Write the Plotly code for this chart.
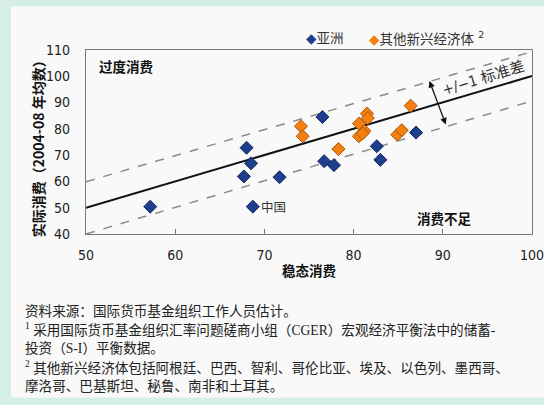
import plotly.graph_objects as go

# ---- data ----
asia_x = [57.2, 68.0, 68.5, 67.7, 68.7, 71.7, 76.5, 76.7, 77.8, 82.6, 83.0, 87.0]
asia_y = [50.4, 72.8, 66.9, 61.9, 50.4, 61.6, 84.5, 67.7, 66.2, 73.4, 68.2, 78.6]
other_x = [74.1, 74.3, 78.3, 81.5, 81.6, 80.6, 81.2, 80.6, 81.0, 84.9, 85.4, 86.4]
other_y = [81.0, 77.2, 72.3, 85.8, 84.1, 82.0, 79.2, 77.2, 78.2, 77.8, 79.5, 88.8]
china_x, china_y = 68.7, 50.4

line_x = [50, 100]
fit_y = [50, 100.1]
upper_y = [59.9, 109.4]
lower_y = [40.0, 90.6]

x_ticks = [50, 60, 70, 80, 90, 100]
y_ticks = [40, 50, 60, 70, 80, 90, 100, 110]

BLUE = "#1d3f8e"
ORANGE = "#f57f0f"
MINT = "#d6efe6"
PANEL = "#f9f9f9"
CJK = "Noto Sans CJK SC"
NARROW = "Liberation Sans Narrow, DejaVu Sans Condensed, Arial Narrow, sans-serif"

# plot area in pixels
L, R, T, B = 86, 532, 49.5, 234
W, H = 544, 405


def px_x(p):
    return (p - L) / (R - L)


def px_y(p):
    return (B - p) / (B - T)


fig = go.Figure()

fig.add_trace(go.Scatter(x=line_x, y=upper_y, mode="lines",
                         line=dict(color="#8a8a8a", width=1.5, dash="dash"),
                         hoverinfo="skip", showlegend=False))
fig.add_trace(go.Scatter(x=line_x, y=lower_y, mode="lines",
                         line=dict(color="#8a8a8a", width=1.5, dash="dash"),
                         hoverinfo="skip", showlegend=False))
fig.add_trace(go.Scatter(x=line_x, y=fit_y, mode="lines",
                         line=dict(color="#111111", width=2),
                         hoverinfo="skip", showlegend=False))

fig.add_trace(go.Scatter(x=asia_x, y=asia_y, mode="markers", name="亚洲",
                         marker=dict(symbol="diamond", size=10, color=BLUE,
                                     line=dict(color="#13285c", width=1)),
                         showlegend=False))
fig.add_trace(go.Scatter(x=other_x, y=other_y, mode="markers", name="其他新兴经济体",
                         marker=dict(symbol="diamond", size=10, color=ORANGE,
                                     line=dict(color="#a8560a", width=1)),
                         showlegend=False))

annotations = [
    # double-headed arrow for +/- 1 std
    dict(x=88.5, y=98.2, ax=90.4, ay=81.1, xref="x", yref="y", axref="x", ayref="y",
         showarrow=True, arrowhead=2, startarrowhead=2, arrowside="end+start",
         arrowsize=1, arrowwidth=1.3, arrowcolor="#111111", text=""),
    dict(x=94.6, y=99.3, xref="x", yref="y", text="+/−1 标准差", showarrow=False,
         textangle=-17, font=dict(family=NARROW + ", " + CJK, size=15, color="#333333")),
    dict(x=54.5, y=104.1, xref="x", yref="y", text="<b>过度消费</b>", showarrow=False,
         font=dict(family=CJK, size=13.5, color="#111111")),
    dict(x=90.2, y=46.1, xref="x", yref="y", text="<b>消费不足</b>", showarrow=False,
         font=dict(family=CJK, size=13.5, color="#111111")),
    dict(x=china_x, y=china_y, xref="x", yref="y", text="中国", showarrow=False,
         xanchor="left", xshift=6, font=dict(family=CJK, size=12.5, color="#333333")),
    # axis titles
    dict(x=px_x(309), y=px_y(270), xref="paper", yref="paper", text="<b>稳态消费</b>",
         xanchor="center", yanchor="middle",
         showarrow=False, font=dict(family=CJK, size=13.5, color="#111111")),
    dict(x=px_x(38), y=px_y(145), xref="paper", yref="paper",
         text="<b>实际消费（2004-08 年均数）</b>", textangle=-90,
         xanchor="center", yanchor="middle",
         showarrow=False, font=dict(family=CJK, size=14, color="#111111")),
    # legend
    dict(x=px_x(304), y=px_y(37), xref="paper", yref="paper", xanchor="left", yanchor="middle",
         text=f"<span style='color:{BLUE}'>◆</span>亚洲", showarrow=False,
         font=dict(family="DejaVu Sans, " + CJK, size=13.5, color="#333333")),
    dict(x=px_x(367), y=px_y(37), xref="paper", yref="paper", xanchor="left", yanchor="middle",
         text=f"<span style='color:{ORANGE}'>◆</span>其他新兴经济体 <sup>2</sup>", showarrow=False,
         font=dict(family="DejaVu Sans, " + CJK, size=13.5, color="#333333")),
]

notes = [
    "资料来源：国际货币基金组织工作人员估计。",
    "<sup>1</sup> 采用国际货币基金组织汇率问题磋商小组（CGER）宏观经济平衡法中的储蓄-",
    "投资（S-I）平衡数据。",
    "<sup>2</sup> 其他新兴经济体包括阿根廷、巴西、智利、哥伦比亚、埃及、以色列、墨西哥、",
    "摩洛哥、巴基斯坦、秘鲁、南非和土耳其。",
]
note_y = [311, 330, 349, 368, 386]
for txt, yy in zip(notes, note_y):
    annotations.append(dict(x=px_x(23), y=px_y(yy), xref="paper", yref="paper",
                            xanchor="left", yanchor="middle", text=txt, showarrow=False,
                            font=dict(family="Liberation Serif, " + CJK, size=13.6, color="#222222")))

shapes = [
    dict(type="rect", xref="paper", yref="paper", layer="below",
         x0=px_x(11), x1=px_x(548), y0=px_y(398), y1=px_y(6),
         fillcolor=PANEL, line=dict(width=0)),
]

fig.update_layout(
    width=W, height=H,
    margin=dict(l=L, r=W - R, t=T, b=H - B, autoexpand=False),
    paper_bgcolor=MINT, plot_bgcolor=PANEL,
    showlegend=False,
    annotations=annotations, shapes=shapes,
    xaxis=dict(range=[50, 100], tickvals=x_ticks, ticks="inside", ticklen=5,
               tickcolor="#7a7a7a", showline=True, linecolor="#7a7a7a", linewidth=1.2,
               mirror=True, showgrid=False, zeroline=False, ticklabelstandoff=8,
               ticklabeloverflow="allow", automargin=False,
               tickfont=dict(family=NARROW, size=14, color="#222222")),
    yaxis=dict(range=[40, 110], tickvals=y_ticks, ticks="", showline=True,
               linecolor="#7a7a7a", linewidth=1.2, mirror=True, showgrid=False,
               zeroline=False, ticklabelstandoff=12, automargin=False,
               tickfont=dict(family=NARROW, size=14, color="#222222")),
)

fig.write_html("out.html", config={"displayModeBar": False},
               post_script="document.body.style.margin='0px';document.body.style.overflow='hidden';")
